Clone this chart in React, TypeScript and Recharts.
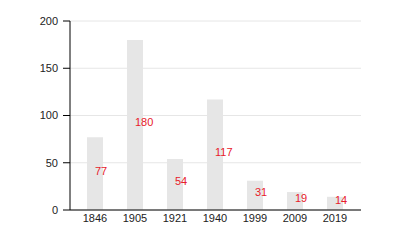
import { BarChart, Bar, XAxis, YAxis, CartesianGrid, LabelList } from "recharts"

const years = ["1846", "1905", "1921", "1940", "1999", "2009", "2019"]
const counts = [77, 180, 54, 117, 31, 19, 14]
const yTicks = [0, 50, 100, 150, 200]

const data = years.map((year, i) => ({ year, count: counts[i] }))

const renderLabel = (props: any) => {
  const { x, y, width, height, value } = props
  return (
    <text
      x={x + width / 2}
      y={y + height / 2 - 3}
      fill="#e8202a"
      fontSize={11}
      textAnchor="start"
      dominantBaseline="central"
    >
      {value}
    </text>
  )
}

export default function App() {
  return (
    <div style={{ position: "absolute", left: 0, top: 0, fontFamily: "Liberation Sans, Arial, sans-serif" }}>
      <BarChart width={400} height={250} data={data} margin={{ top: 21, right: 39, bottom: 10, left: 10 }}>
        <CartesianGrid vertical={false} stroke="#e6e6e6" />
        <XAxis
          dataKey="year"
          stroke="#000"
          tickLine={false}
          tickSize={3}
          tickMargin={1}
          height={30}
          padding={{ left: 5, right: 6 }}
          tick={{ fill: "#222", fontSize: 11 }}
        />
        <YAxis
          domain={[0, 200]}
          ticks={yTicks}
          stroke="#000"
          width={60}
          tickSize={7}
          tickMargin={5}
          tick={{ fill: "#222", fontSize: 11 }}
        />
        <Bar dataKey="count" fill="#e6e6e6" barSize={16} isAnimationActive={false}>
          <LabelList dataKey="count" content={renderLabel} />
        </Bar>
      </BarChart>
    </div>
  )
}
